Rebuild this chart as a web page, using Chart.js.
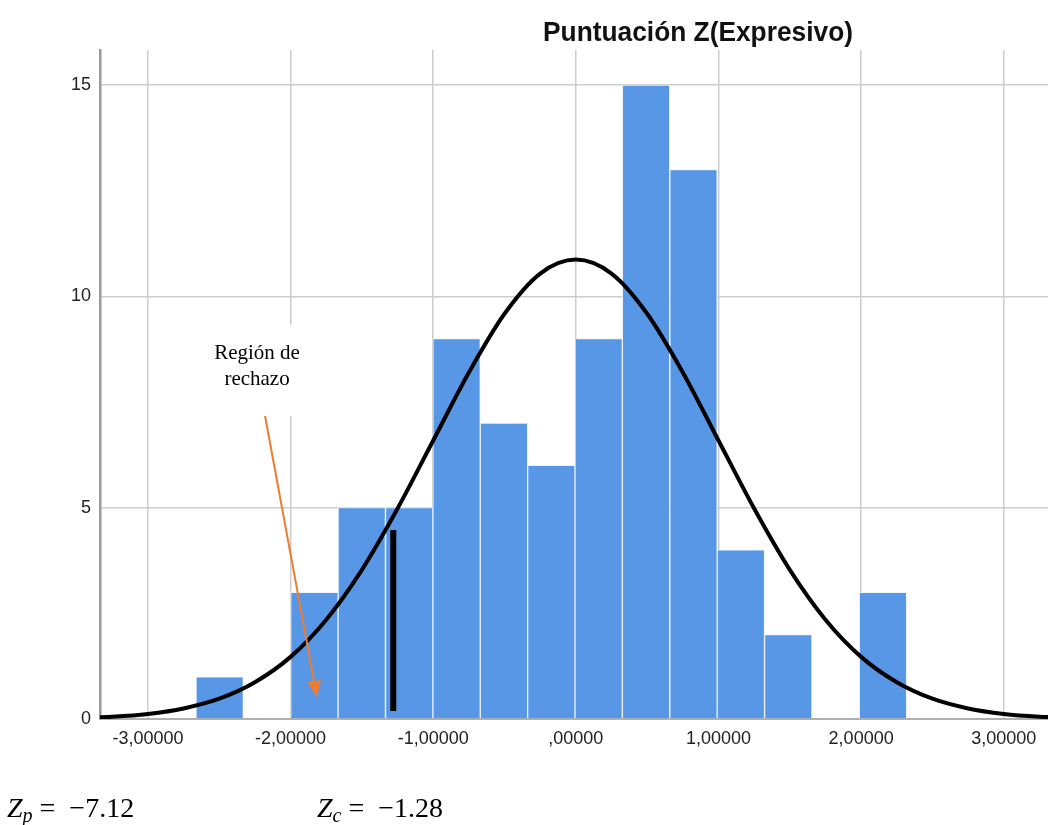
<!DOCTYPE html>
<html>
<head>
<meta charset="utf-8">
<script src="https://cdn.jsdelivr.net/npm/chart.js@4.4.1/dist/chart.umd.min.js"></script>
<style>
  html, body { margin: 0; padding: 0; background: #ffffff; }
  #wrap { position: relative; width: 1048px; height: 825px; }
  canvas { display: block; }
</style>
</head>
<body>
<div id="wrap"><canvas id="c" width="1048" height="825"></canvas></div>
<script>
// ---- data ----
const chartTitle = 'Puntuación Z(Expresivo)';
const binCenters = [-2.497, -2.165, -1.833, -1.501, -1.168, -0.836, -0.504, -0.172, 0.160, 0.492, 0.825, 1.157, 1.489, 1.821, 2.153];
const binCounts  = [1, 0, 3, 5, 5, 9, 7, 6, 9, 15, 13, 4, 2, 0, 3];
const curveX = [-3.5, -3.25, -3.0, -2.75, -2.5, -2.25, -2.0, -1.75, -1.5, -1.25, -1.0, -0.75, -0.5, -0.25, 0, 0.25, 0.5, 0.75, 1.0, 1.25, 1.5, 1.75, 2.0, 2.25, 2.5, 2.75, 3.0, 3.25, 3.5];
const curveY = [0.024, 0.055, 0.12, 0.25, 0.48, 0.87, 1.47, 2.35, 3.53, 4.98, 6.59, 8.20, 9.59, 10.54, 10.87, 10.54, 9.59, 8.20, 6.59, 4.98, 3.53, 2.35, 1.47, 0.87, 0.48, 0.25, 0.12, 0.055, 0.024];
const xTickValues = [-3, -2, -1, 0, 1, 2, 3];
const xTickLabels = ['-3,00000', '-2,00000', '-1,00000', ',00000', '1,00000', '2,00000', '3,00000'];
const yTickValues = [0, 5, 10, 15];
const zcX = [-1.28, -1.28];
const zcY = [0.19, 4.47];
const noteLines = ['Región de', 'rechazo'];
const noteAnchor = { x: -2.235, y1: 8.66, y2: 8.04 };
const noteBox = { x0: -2.67, x1: -1.80, y0: 7.17, y1: 9.33 };
const arrowFrom = { x: -2.179, y: 7.17 };
const arrowTo = { x: -1.815, y: 0.52 };
const zpText = { sym: 'Z', sub: 'p', val: '=  \u22127.12' };
const zcText = { sym: 'Z', sub: 'c', val: '=  \u22121.28' };

const annotPlugin = {
  id: 'annot',
  beforeDatasetsDraw(chart) {
    const { ctx, scales: { x, y } } = chart;
    ctx.save();
    ctx.fillStyle = '#ffffff';
    const px0 = x.getPixelForValue(noteBox.x0), px1 = x.getPixelForValue(noteBox.x1);
    const py0 = y.getPixelForValue(noteBox.y1), py1 = y.getPixelForValue(noteBox.y0);
    ctx.fillRect(px0, py0, px1 - px0, py1 - py0);
    ctx.restore();
  },
  afterDatasetsDraw(chart) {
    const { ctx, scales: { x, y } } = chart;
    ctx.save();
    ctx.fillStyle = '#000';
    ctx.font = '21px "Liberation Serif", "Times New Roman", serif';
    ctx.textAlign = 'center';
    ctx.textBaseline = 'middle';
    const nx = x.getPixelForValue(noteAnchor.x);
    ctx.fillText(noteLines[0], nx, y.getPixelForValue(noteAnchor.y1));
    ctx.fillText(noteLines[1], nx, y.getPixelForValue(noteAnchor.y2));
    const ax0 = x.getPixelForValue(arrowFrom.x), ay0 = y.getPixelForValue(arrowFrom.y);
    const ax1 = x.getPixelForValue(arrowTo.x), ay1 = y.getPixelForValue(arrowTo.y);
    const ang = Math.atan2(ay1 - ay0, ax1 - ax0);
    const hl = 16, hw = 7;
    const bx = ax1 - hl * Math.cos(ang), by = ay1 - hl * Math.sin(ang);
    ctx.strokeStyle = '#ED7D31';
    ctx.lineWidth = 2;
    ctx.beginPath();
    ctx.moveTo(ax0, ay0);
    ctx.lineTo(bx, by);
    ctx.stroke();
    ctx.fillStyle = '#ED7D31';
    ctx.beginPath();
    ctx.moveTo(ax1, ay1);
    ctx.lineTo(bx + hw * Math.sin(ang), by - hw * Math.cos(ang));
    ctx.lineTo(bx - hw * Math.sin(ang), by + hw * Math.cos(ang));
    ctx.closePath();
    ctx.fill();
    ctx.restore();
  },
  afterDraw(chart) {
    const { ctx } = chart;
    ctx.save();
    ctx.fillStyle = '#111';
    ctx.font = 'bold 28px "Liberation Sans", Arial, sans-serif';
    ctx.textAlign = 'center';
    ctx.textBaseline = 'alphabetic';
    ctx.fillText(chartTitle, 698, 41, 310);
    const drawMath = (t, x0, base) => {
      let xx = x0;
      ctx.textAlign = 'left';
      ctx.font = 'italic 28px "Liberation Serif", serif';
      ctx.fillText(t.sym, xx, base);
      xx += ctx.measureText(t.sym).width;
      ctx.font = 'italic 20px "Liberation Serif", serif';
      ctx.fillText(t.sub, xx, base + 5);
      xx += ctx.measureText(t.sub).width + 7;
      ctx.font = '28px "Liberation Serif", serif';
      ctx.fillText(t.val, xx, base);
    };
    ctx.fillStyle = '#000';
    drawMath(zpText, 7, 817);
    drawMath(zcText, 317, 817);
    ctx.restore();
  }
};

const ctx = document.getElementById('c').getContext('2d');
new Chart(ctx, {
  type: 'bar',
  data: {
    datasets: [
      {
        type: 'line',
        data: zcX.map((v, i) => ({ x: v, y: zcY[i] })),
        borderColor: '#000',
        borderWidth: 6,
        borderCapStyle: 'butt',
        pointRadius: 0,
        order: 1
      },
      {
        type: 'line',
        data: curveX.map((v, i) => ({ x: v, y: curveY[i] })),
        borderColor: '#000',
        borderWidth: 4,
        pointRadius: 0,
        cubicInterpolationMode: 'monotone',
        fill: false,
        order: 2
      },
      {
        type: 'bar',
        data: binCenters.map((v, i) => ({ x: v, y: binCounts[i] })),
        backgroundColor: '#5797E5',
        borderColor: 'rgba(235,242,252,0.95)',
        borderWidth: { left: 1, right: 1, top: 1, bottom: 0 },
        borderSkipped: false,
        barPercentage: 1.0,
        categoryPercentage: 1.0,
        order: 3
      }
    ]
  },
  options: {
    responsive: false,
    animation: false,
    events: [],
    layout: { padding: { top: 50, right: 0, left: 0, bottom: 0 } },
    plugins: { legend: { display: false }, tooltip: { enabled: false }, title: { display: false } },
    scales: {
      x: {
        type: 'linear',
        min: -3.336,
        max: 3.31,
        offset: false,
        grid: { offset: false, color: '#cdcdcd', lineWidth: 1.5, drawTicks: false },
        border: { display: true, color: '#b0b0b0', width: 2 },
        afterBuildTicks: (s) => { s.ticks = xTickValues.map(v => ({ value: v })); },
        afterFit: (s) => { s.height = 106; },
        ticks: {
          padding: 9,
          color: '#222',
          font: { family: '"Liberation Sans", Arial, sans-serif', size: 18 },
          maxRotation: 0,
          autoSkip: false,
          callback: (v, i) => xTickLabels[i]
        }
      },
      y: {
        type: 'linear',
        min: 0,
        max: 15.83,
        grid: { color: '#cdcdcd', lineWidth: 1.5, drawTicks: false },
        border: { display: true, color: '#9a9a9a', width: 2.5 },
        afterBuildTicks: (s) => { s.ticks = yTickValues.map(v => ({ value: v })); },
        afterFit: (s) => { s.width = 100; },
        ticks: {
          padding: 9,
          color: '#222',
          font: { family: '"Liberation Sans", Arial, sans-serif', size: 18 },
          autoSkip: false,
          callback: (v) => String(v)
        }
      }
    }
  },
  plugins: [annotPlugin]
});
</script>
</body>
</html>
